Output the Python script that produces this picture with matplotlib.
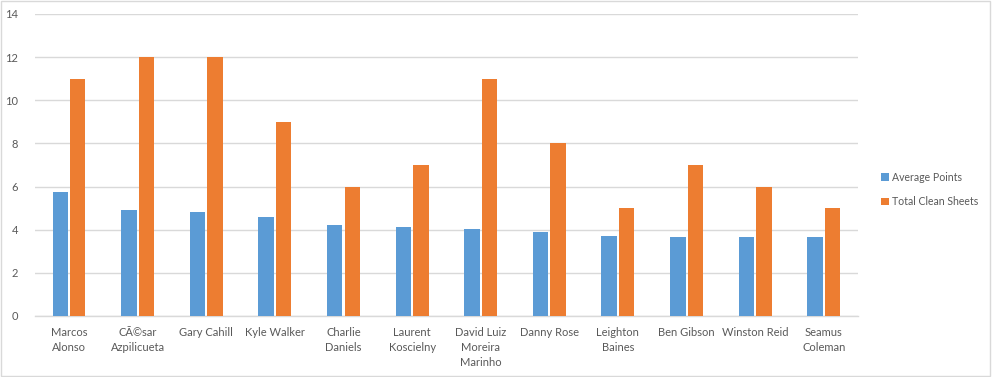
import matplotlib
matplotlib.use("Agg")
import matplotlib.pyplot as plt
import numpy as np
from matplotlib.patches import Rectangle

players = ["Marcos\nAlonso", "CÃ©sar\nAzpilicueta", "Gary Cahill", "Kyle Walker",
           "Charlie\nDaniels", "Laurent\nKoscielny", "David Luiz\nMoreira\nMarinho",
           "Danny Rose", "Leighton\nBaines", "Ben Gibson", "Winston Reid", "Seamus\nColeman"]
avg_points = [5.73, 4.90, 4.82, 4.58, 4.22, 4.12, 4.04, 3.88, 3.71, 3.67, 3.67, 3.67]
clean_sheets = [11, 12, 12, 9, 6, 7, 11, 8, 5, 7, 6, 5]
yticks = [0, 2, 4, 6, 8, 10, 12, 14]

plt.rcParams['font.family'] = ['Lato', 'DejaVu Sans']
txt = '#595959'
fig = plt.figure(figsize=(9.92, 3.77), dpi=100)
ax = fig.add_axes([0.035, 0.162, 0.830, 0.801])

x = np.arange(len(players))
w = 0.225
gap = 0.03
ax.bar(x - (w + gap) / 2, avg_points, w, color='#5B9BD5', label='Average Points', zorder=3)
ax.bar(x + (w + gap) / 2, clean_sheets, w, color='#ED7D31', label='Total Clean Sheets', zorder=3)

ax.set_xlim(-0.5, len(players) - 0.5)
ax.set_ylim(0, 14)
ax.set_yticks(yticks)
ax.set_yticklabels([str(v) for v in yticks], color=txt, fontsize=8)
ax.set_xticks(x)
ax.set_xticklabels(players, color=txt, fontsize=8, linespacing=1.45)
ax.tick_params(axis='both', length=0, pad=8)
ax.tick_params(axis='y', pad=12)
ax.grid(axis='y', color='#D9D9D9', linewidth=1, zorder=0)
for s in ['top', 'right', 'left']:
    ax.spines[s].set_visible(False)
ax.spines['bottom'].set_color('#D9D9D9')
ax.spines['bottom'].set_linewidth(1)

leg = fig.legend(loc='center left', bbox_to_anchor=(0.879, 0.497), frameon=False,
                 fontsize=7.6, handlelength=0.75, handleheight=0.75, handletextpad=0.25,
                 labelspacing=1.25, labelcolor=txt)

fig.patches.append(Rectangle((0.001, 0.002), 0.997, 0.995, transform=fig.transFigure,
                             fill=False, edgecolor='#D9D9D9', linewidth=1))
fig.savefig('out.png', dpi=100)
